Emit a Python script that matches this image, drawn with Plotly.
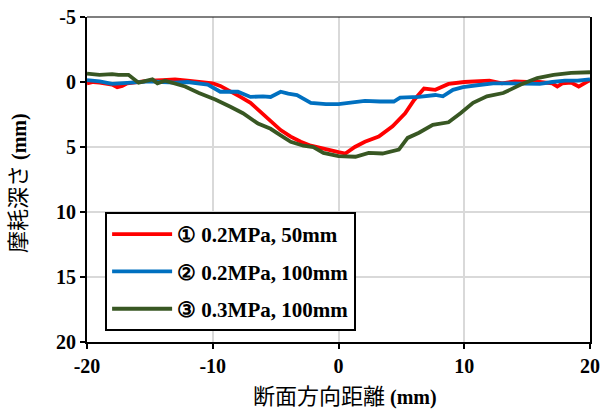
import plotly.graph_objects as go

red_x = [-20, -19.5, -19, -18.5, -18, -17.6, -17.2, -16.8, -16, -15, -14, -13, -12, -11, -10,
         -9.4, -8.6, -7.8, -7, -6.2, -5.4, -4.6, -3.8, -3, -2.2, -1.4, -0.6, 0, 0.55, 1.3, 2.1,
         3.2, 4.3, 5.3, 6.0, 6.8, 7.7, 8.75, 10, 11, 12, 13, 14, 15, 16, 17, 17.4, 17.8, 18.5,
         19.1, 19.6, 20]
red_y = [0.1, 0.0, 0.05, 0.1, 0.2, 0.4, 0.3, 0.1, 0.0, -0.1, -0.15, -0.2, -0.1, 0.0, 0.1,
         0.3, 0.7, 1.15, 1.6, 2.3, 3.0, 3.7, 4.2, 4.6, 4.9, 5.1, 5.25, 5.4, 5.5, 5.0, 4.6,
         4.2, 3.4, 2.4, 1.4, 0.5, 0.6, 0.15, 0.0, -0.05, -0.1, 0.1, -0.05, 0.0, 0.0, 0.1, 0.35, 0.1, 0.05,
         0.35, 0.1, -0.15]

blue_x = [-20, -19, -18, -17, -16, -15, -14, -13, -12, -11, -10.4, -9.4, -8, -7, -6, -5.4, -4.6,
          -4, -3.3, -2.2, -1, 0, 1, 2.1, 3.3, 4.4, 4.9, 6.4, 7.7, 8.3, 9.1, 9.9, 11, 12.3, 13.5,
          15, 16, 17, 18, 19, 20]
blue_y = [-0.15, -0.05, 0.15, 0.1, 0.0, -0.05, 0.0, 0.05, 0.0, 0.1, 0.2, 0.75, 0.75, 1.15, 1.1, 1.15, 0.75,
          0.9, 1.0, 1.6, 1.7, 1.7, 1.6, 1.45, 1.5, 1.5, 1.2, 1.15, 1.0, 1.1, 0.6, 0.4, 0.25, 0.1, 0.1,
          0.1, 0.15, 0.0, -0.1, -0.1, -0.2]

green_x = [-20, -19, -18, -17.5, -16.7, -15.9, -14.8, -14.4, -13.8, -13, -12.2, -11.1, -9.8, -8.6,
           -7.6, -6.4, -5.4, -4.6, -3.8, -2.8, -2, -1.2, 0, 1.35, 2.4, 3.5, 4.8, 5.5, 6.4, 7.5, 8.75,
           9.7, 10.7, 11.8, 13.1, 14.5, 15.8, 17.1, 18.5, 20]
green_y = [-0.65, -0.55, -0.6, -0.55, -0.55, 0.05, -0.2, 0.1, -0.1, 0.1, 0.35, 0.85, 1.35, 1.9,
           2.4, 3.2, 3.6, 4.1, 4.6, 4.9, 5.0, 5.45, 5.7, 5.75, 5.45, 5.5, 5.2, 4.3, 3.9, 3.3, 3.1,
           2.4, 1.6, 1.1, 0.85, 0.2, -0.3, -0.55, -0.7, -0.75]

x_ticks = [-20, -10, 0, 10, 20]
y_ticks = [-5, 0, 5, 10, 15, 20]

names = ["① 0.2MPa, 50mm", "② 0.2MPa, 100mm", "③ 0.3MPa, 100mm"]
colors = ["#FF0000", "#0070C0", "#385723"]

serif = "Liberation Serif, Times New Roman, serif"
jp = "Noto Sans CJK JP"

fig = go.Figure()
for i, (xs, ys) in enumerate([(red_x, red_y), (blue_x, blue_y), (green_x, green_y)]):
    fig.add_trace(go.Scatter(x=xs, y=ys, mode="lines", name="<b>" + names[i] + "</b>",
                             legendgroup=f"g{i}",
                             line=dict(color=colors[i], width=3.8)))

fig.update_layout(
    width=600, height=409,
    margin=dict(l=87, r=10, t=17, b=67),
    paper_bgcolor="white", plot_bgcolor="white",
    font=dict(family=serif, color="black", size=20),
    legend=dict(x=0.036, y=0.40, xanchor="left", yanchor="top",
                bordercolor="black", borderwidth=2, bgcolor="white",
                font=dict(family=serif, size=21, color="black"),
                itemwidth=60, tracegroupgap=7),
    xaxis=dict(range=[-20, 20], showgrid=True, gridcolor="#D9D9D9", gridwidth=1.5,
               zeroline=False, showline=True, linecolor="black", linewidth=2,
               ticks="outside", ticklen=5, tickcolor="black", tickwidth=1.5,
               tickfont=dict(family=serif, size=20), automargin=False, ticklabeloverflow="allow",
               tickvals=x_ticks, ticktext=[f"<b>{v}</b>" for v in x_ticks]),
    yaxis=dict(range=[20, -5], showgrid=True, gridcolor="#D9D9D9", gridwidth=1.5,
               zeroline=False, showline=True, linecolor="black", linewidth=2, mirror=True,
               ticks="outside", ticklen=5, tickcolor="black", tickwidth=1.5,
               tickfont=dict(family=serif, size=20), automargin=False, ticklabeloverflow="allow",
               tickvals=y_ticks, ticktext=[f"<b>{v}</b>" for v in y_ticks]),
)
fig.add_shape(type="line", xref="paper", yref="paper", x0=0, x1=1, y0=1, y1=1,
              line=dict(color="black", width=1.2))

fig.add_annotation(xref="paper", yref="paper", x=0.513, y=-0.160, xanchor="center", yanchor="middle",
                   showarrow=False,
                   text=f"<span style='font-family:{jp}; font-size:22px'>断面方向距離</span> <b>(mm)</b>",
                   font=dict(family=serif, size=20, color="black"))
fig.add_annotation(xref="paper", yref="paper", x=-0.14, y=0.488, xanchor="center", yanchor="middle",
                   showarrow=False, textangle=-90,
                   text=f"<span style='font-family:{jp}; font-size:22px'>摩耗深さ</span> <b>(mm)</b>",
                   font=dict(family=serif, size=20, color="black"))

fig.write_html("out.html", config={"displayModeBar": False},
               post_script="document.body.style.margin='0px';document.body.style.overflow='hidden';")
